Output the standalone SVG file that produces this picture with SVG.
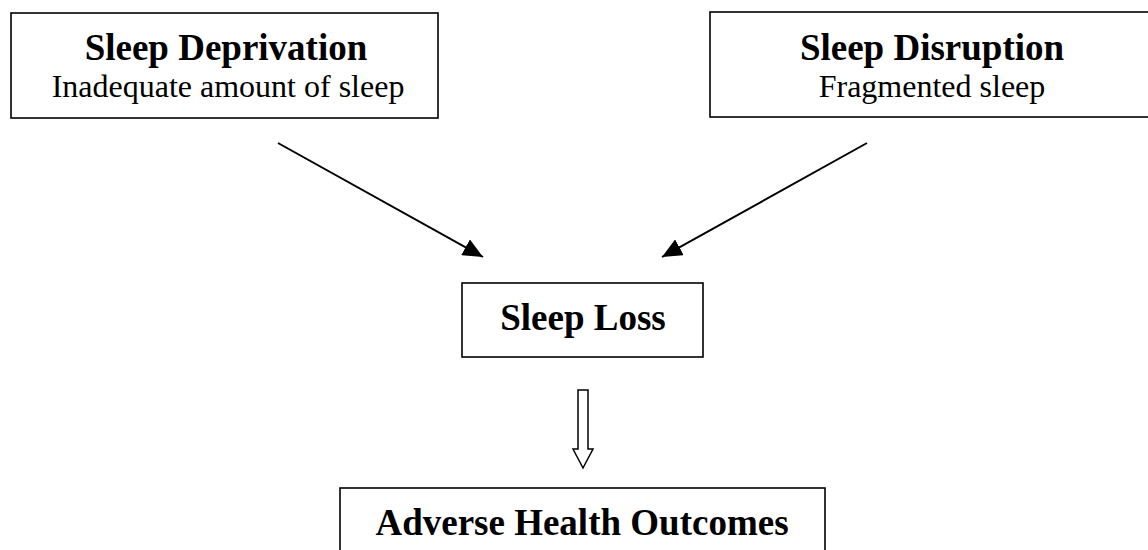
<svg xmlns="http://www.w3.org/2000/svg" width="1148" height="550" viewBox="0 0 1148 550">
<style>
.box{fill:#fff;stroke:#000;stroke-width:1.6}
.t{font-family:"Liberation Serif","Times New Roman",serif;fill:#000;text-anchor:middle}
.b{font-weight:bold;font-size:37px}
.r{font-size:32px}
.ln{stroke:#000;stroke-width:2;fill:none}
</style>
<defs>
<marker id="ah" viewBox="0 0 10 10" refX="10" refY="5" markerWidth="10" markerHeight="10" markerUnits="userSpaceOnUse" orient="auto">
<path d="M0,0 L10,5 L0,10 z" fill="#000"/>
</marker>
<marker id="ah2" viewBox="0 0 20 18" refX="20" refY="9" markerWidth="20" markerHeight="18" markerUnits="userSpaceOnUse" orient="auto">
<path d="M0,0 L20,9 L0,18 z" fill="#000"/>
</marker>
</defs>
<g id="node-deprivation">
<rect class="box" x="11" y="13" width="427" height="105"/>
<text class="t b" x="226" y="60">Sleep Deprivation</text>
<text class="t r" x="228" y="97">Inadequate amount of sleep</text>
</g>
<g id="node-disruption">
<rect class="box" x="710" y="12" width="446" height="105"/>
<text class="t b" x="932" y="60">Sleep Disruption</text>
<text class="t r" x="932" y="97">Fragmented sleep</text>
</g>
<g id="node-loss">
<rect class="box" x="462" y="283" width="241" height="74"/>
<text class="t b" x="583" y="330">Sleep Loss</text>
</g>
<g id="node-outcomes">
<rect class="box" x="340" y="488" width="485" height="80"/>
<text class="t b" x="582" y="535">Adverse Health Outcomes</text>
</g>
<g id="connectors">
<line class="ln" x1="278" y1="143" x2="483" y2="257" marker-end="url(#ah2)"/>
<line class="ln" x1="867" y1="143" x2="662" y2="257" marker-end="url(#ah2)"/>
<path d="M578,390 H588 V449 H593 L583,468 L573,449 H578 Z" fill="#fff" stroke="#000" stroke-width="1.5"/>
</g>
</svg>
